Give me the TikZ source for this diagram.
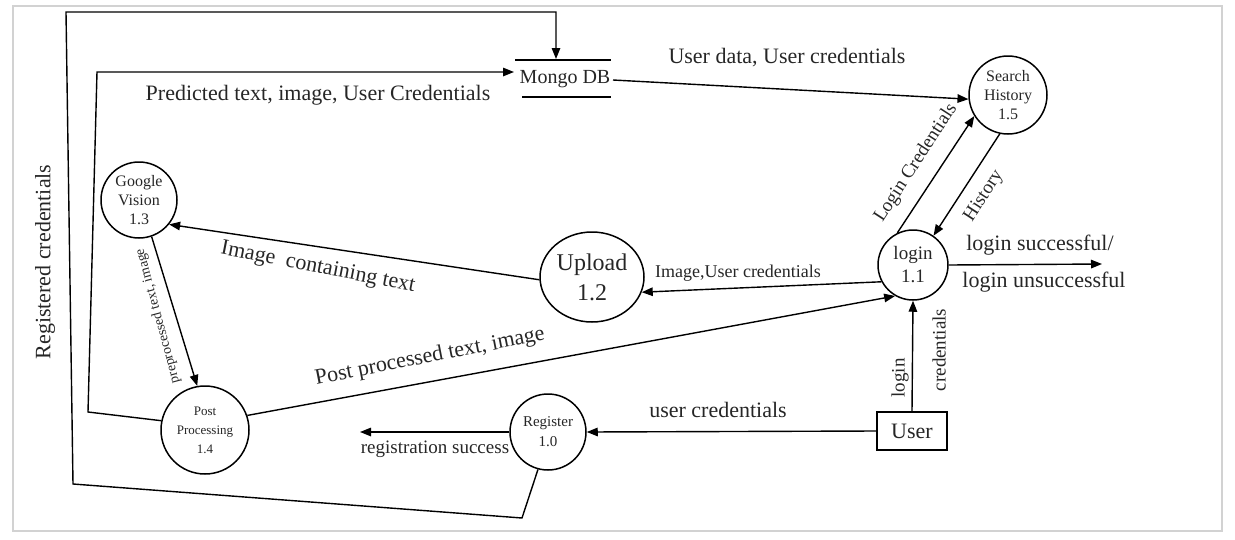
\documentclass[tikz,border=0pt]{standalone}
\usepackage{fontspec}
\setmainfont{Liberation Serif}
\usetikzlibrary{arrows.meta,shapes.geometric}
\begin{document}
\begin{tikzpicture}[x=1pt,y=-1pt,
  proc/.style={draw, circle, line width=1.5pt, inner sep=0pt, align=center, text=black!85},
  flow/.style={-{Triangle[length=11pt,width=8.5pt]}, line width=1.4pt},
  wire/.style={line width=1.4pt},
  lbl/.style={text=black!85, inner sep=1pt},
  big/.style={font=\fontsize{22}{24}\selectfont},
  mid/.style={font=\fontsize{19}{21}\selectfont},
  ]
\useasboundingbox (0,0) rectangle (1235,539);
\draw[gray!35, line width=2pt] (13,6) rectangle (1222,531);

% processes
\node[proc, minimum size=76pt, font=\fontsize{16}{19}\selectfont] (gv) at (139,200) {Google\\Vision\\1.3};
\node[proc, minimum size=88pt, font=\fontsize{13}{19}\selectfont] (pp) at (205,430) {Post\\Processing\\1.4};
\node[proc, ellipse, minimum width=104pt, minimum height=90pt, font=\fontsize{24}{30}\selectfont] (upload) at (592,277) {Upload\\1.2};
\node[proc, minimum size=70pt, font=\fontsize{19}{23}\selectfont] (login) at (913,265) {login\\1.1};
\node[proc, minimum size=78pt, font=\fontsize{16}{19}\selectfont] (sh) at (1008,95) {Search\\History\\1.5};
\node[proc, minimum size=76pt, font=\fontsize{15}{20}\selectfont] (reg) at (548,432) {Register\\1.0};
\node[draw, line width=1.4pt, minimum width=70pt, minimum height=38pt, inner sep=0pt, big, text=black!85] (user) at (912,431) {User};

% data store
\node[lbl, font=\fontsize{20}{22}\selectfont] (mongo) at (565,79) {Mongo DB};
\draw[wire] (515,60) -- (611,60);
\draw[wire] (522,97) -- (611,97);
\coordinate (mtop) at (556,59);
\coordinate (mleft) at (514,72);
\coordinate (mright) at (613,80);

% free ends and bends
\coordinate (rs) at (360,432);
\coordinate (ls) at (1102,264);
\coordinate (o1) at (522,518);
\coordinate (o2) at (73,484);
\coordinate (o3) at (66,12);
\coordinate (o4) at (556,12);
\coordinate (i1) at (88,412);
\coordinate (i2) at (97,72);

% connectors
\draw[flow] (reg.255) -- (o1) -- (o2) -- (o3) -- (o4) -- (mtop);
\draw[flow] (pp.168) -- (i1) -- (i2) -- (mleft);
\draw[flow] (mright) -- (sh.186);
\draw[flow] (login.116) -- (sh.212);
\draw[flow] (sh.258) -- (login.55);
\draw[flow] (login.east) -- (ls);
\draw[flow] (login.208) -- (upload.-17);
\draw[flow] (upload.183) -- (gv.-39);
\draw[flow] (gv.-71) -- (pp.100);
\draw[flow] (pp.19) -- (login.240);
\draw[flow] (user.west) -- (reg.east);
\draw[flow] (reg.west) -- (rs);
\draw[flow] (user.north) -- (login.south);

% labels
\node[lbl, big] at (318,95) {Predicted text, image, User Credentials};
\node[lbl, big] at (787,58) {User data, User credentials};
\node[lbl, big, rotate=90] at (45,262) {Registered credentials};
\node[lbl, big, rotate=-11] at (318,268) {Image\ \ containing text};
\node[lbl, font=\fontsize{18}{20}\selectfont] at (738,273) {Image,User credentials};
\node[lbl, big, rotate=11] at (430,357) {Post processed text, image};
\node[lbl, big] at (718,410) {user credentials};
\node[lbl, mid] at (435,449) {registration success};
\node[lbl, big] at (1040,245) {login successful/};
\node[lbl, big] at (1044,282) {login unsuccessful};
\node[lbl, mid, rotate=57] at (916,163) {Login Credentials};
\node[lbl, mid, rotate=57] at (984,196) {History};
\node[lbl, font=\fontsize{14}{16}\selectfont, rotate=105] at (158,316) {preprocessed text, image};
\node[lbl, mid, rotate=90] at (900,378) {login};
\node[lbl, mid, rotate=90] at (939,350) {credentials};
\end{tikzpicture}
\end{document}
